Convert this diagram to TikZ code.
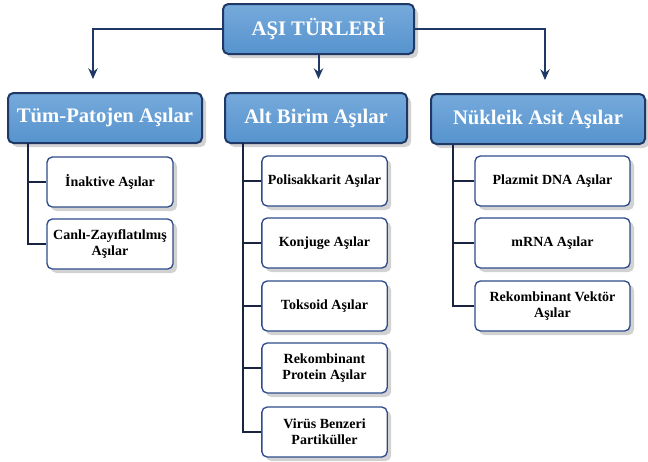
\documentclass[tikz,border=0pt]{standalone}
\usepackage{fontspec}
\setmainfont{Liberation Serif}
\usetikzlibrary{shadows,arrows.meta}
\definecolor{navy}{HTML}{1F3866}
\definecolor{boxblue}{HTML}{5693CD}
\definecolor{boxbluelight}{HTML}{76AADC}
\definecolor{subborder}{HTML}{2E4C8C}
\definecolor{linecol}{HTML}{1A2440}
\begin{document}
\begin{tikzpicture}[x=0.75pt,y=-0.75pt,
  myshadow/.style={drop shadow={shadow xshift=3pt, shadow yshift=-3pt, opacity=0.25, fill=black!70}},
  headbox/.style={draw=navy, line width=1.5pt, rounded corners=4pt, top color=boxbluelight, bottom color=boxblue,
    text=white, font=\bfseries\fontsize{15.5}{18}\selectfont, minimum height=37.5pt, inner sep=0pt, myshadow},
  subbox/.style={draw=subborder, line width=1pt, rounded corners=4pt, fill=white,
    font=\bfseries\fontsize{10.5}{12}\selectfont, align=center, minimum height=37.5pt, inner sep=0pt, myshadow},
  arrowline/.style={draw=navy, line width=1.5pt, -{Stealth[length=8pt,width=7pt]}},
  subline/.style={draw=linecol, line width=1.1pt}
]
\useasboundingbox (0,0) rectangle (648,461);
% headers
\node[headbox, minimum width=143.25pt] (top) at (318.5,29) {AŞI TÜRLERİ};
\node[headbox, minimum width=145.5pt] (tum) at (105,118) {Tüm-Patojen Aşılar};
\node[headbox, minimum width=136.5pt] (alt) at (316,118) {Alt Birim Aşılar};
\node[headbox, minimum width=160.5pt] (nuk) at (538,119) {Nükleik Asit Aşılar};
% left column
\node[subbox, minimum width=94.5pt] (ina) at (110,182) {İnaktive Aşılar};
\node[subbox, minimum width=94.5pt] (can) at (110,244) {Canlı-Zayıflatılmış\\Aşılar};
% middle column
\node[subbox, minimum width=94pt] (pol) at (324.5,181) {Polisakkarit Aşılar};
\node[subbox, minimum width=94pt] (kon) at (324.5,243) {Konjuge Aşılar};
\node[subbox, minimum width=94pt] (tok) at (324.5,306) {Toksoid Aşılar};
\node[subbox, minimum width=94pt] (rep) at (324.5,368) {Rekombinant\\Protein Aşılar};
\node[subbox, minimum width=94pt] (vir) at (324.5,432) {Virüs Benzeri\\Partiküller};
% right column
\node[subbox, minimum width=116.25pt] (pla) at (552.5,181) {Plazmit DNA Aşılar};
\node[subbox, minimum width=116.25pt] (mrn) at (552.5,243) {mRNA Aşılar};
\node[subbox, minimum width=116.25pt] (rev) at (552.5,306) {Rekombinant Vektör\\Aşılar};
% top arrows
\draw[arrowline, shorten >=9.75pt] (top.west) -| ([xshift=-9pt]tum.north);
\draw[arrowline, shorten >=9.75pt] (top.south) -- (top.south |- alt.north);
\draw[arrowline, shorten >=9.75pt] (top.east) -| ([xshift=5.25pt]nuk.north);
% sub connectors
\coordinate (lx) at (28,143);
\coordinate (mx) at (243,143);
\coordinate (rx) at (453,145);
\draw[subline] (lx) |- (ina.west);
\draw[subline] (lx) |- (can.west);
\draw[subline] (mx) |- (pol.west);
\draw[subline] (mx) |- (kon.west);
\draw[subline] (mx) |- (tok.west);
\draw[subline] (mx) |- (rep.west);
\draw[subline] (mx) |- (vir.west);
\draw[subline] (rx) |- (pla.west);
\draw[subline] (rx) |- (mrn.west);
\draw[subline] (rx) |- (rev.west);
\end{tikzpicture}
\end{document}
